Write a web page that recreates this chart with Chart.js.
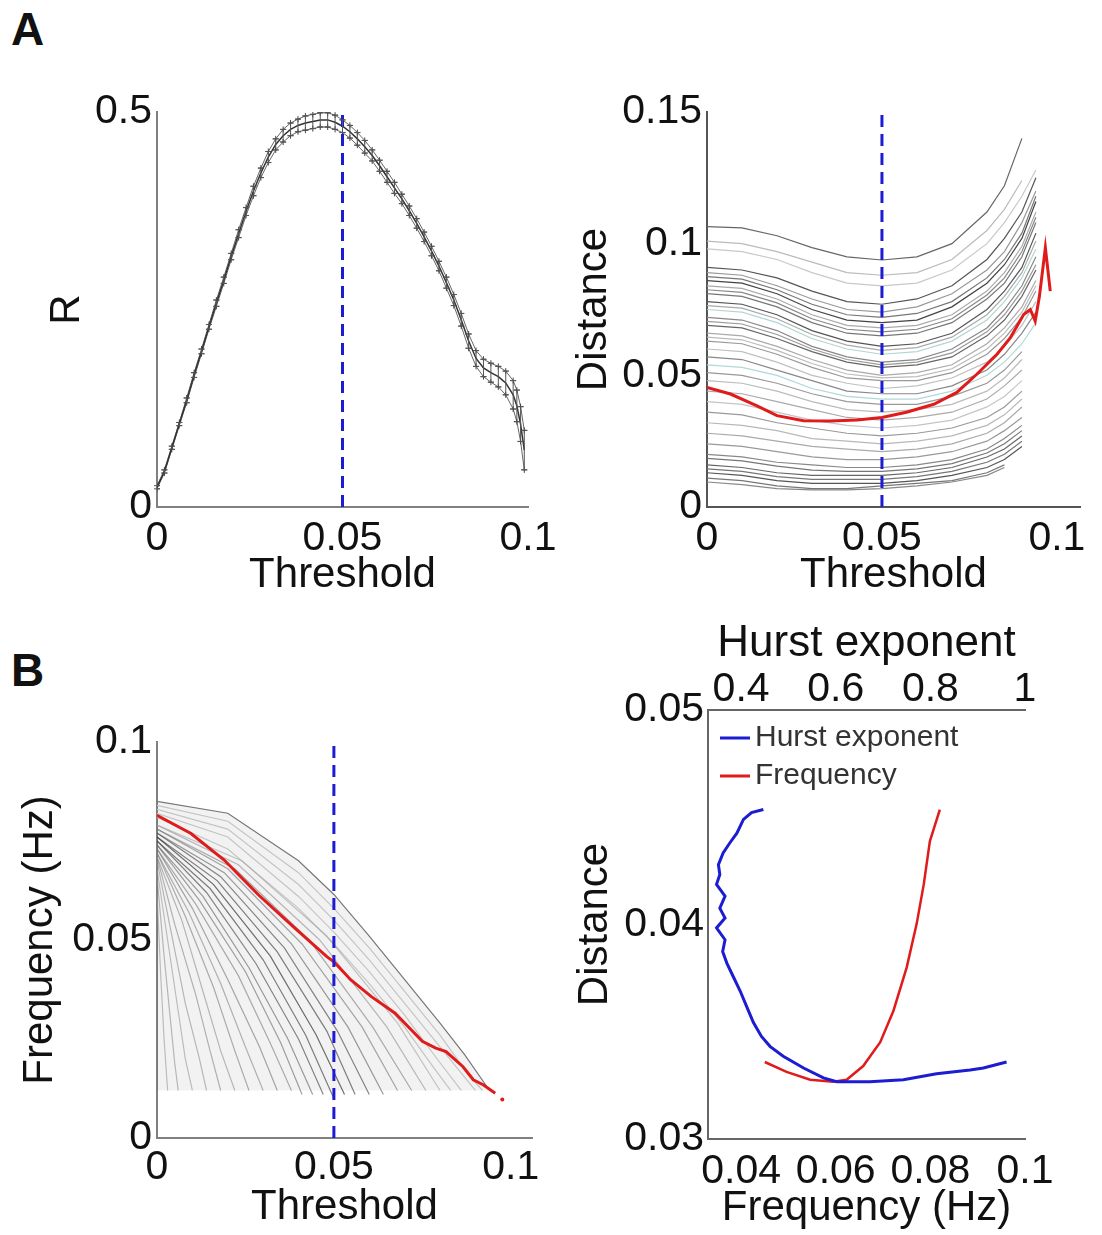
<!DOCTYPE html>
<html>
<head>
<meta charset="utf-8">
<script src="https://cdn.jsdelivr.net/npm/chart.js@4.4.1/dist/chart.umd.min.js"></script>
<style>
    body { margin: 0; background: #fff; }
    #page { position: relative; width: 1102px; height: 1235px; overflow: hidden; background: #fff; }
    .lbl { position: absolute; font: bold 46px "Liberation Sans", Arial, sans-serif; color: #111; line-height: 1; }
    canvas { position: absolute; }
</style>
</head>
<body>
<div id="page">
    <div class="lbl" style="left:11px;top:6px">A</div>
    <div class="lbl" style="left:11px;top:647px">B</div>
    <canvas id="rChart" width="560" height="560" style="left:0;top:60px"></canvas>
    <canvas id="distChart" width="542" height="560" style="left:560px;top:60px"></canvas>
    <canvas id="freqChart" width="560" height="545" style="left:0;top:690px"></canvas>
    <canvas id="hurstChart" width="542" height="625" style="left:560px;top:610px"></canvas>
</div>
<script>
// ---- A left: R vs threshold (mean +/- error)
const rX = [0, 0.002, 0.004, 0.006, 0.008, 0.010, 0.012, 0.014, 0.016, 0.018,
    0.020, 0.022, 0.024, 0.026, 0.028, 0.030, 0.032, 0.034, 0.036, 0.038,
    0.040, 0.042, 0.044, 0.046, 0.048, 0.050, 0.052, 0.054, 0.056, 0.058,
    0.060, 0.062, 0.064, 0.066, 0.068, 0.070, 0.072, 0.074, 0.076, 0.078,
    0.080, 0.082, 0.084, 0.086, 0.088, 0.090, 0.092, 0.094, 0.096, 0.097,
    0.098, 0.099];
const rMean = [0.025, 0.045, 0.075, 0.105, 0.135, 0.167, 0.197, 0.228, 0.258, 0.287,
    0.317, 0.346, 0.374, 0.400, 0.423, 0.443, 0.459, 0.470, 0.478, 0.483,
    0.486, 0.488, 0.490, 0.490, 0.487, 0.482, 0.475, 0.466, 0.456, 0.445,
    0.432, 0.418, 0.404, 0.390, 0.375, 0.359, 0.342, 0.324, 0.305, 0.284,
    0.262, 0.237, 0.210, 0.188, 0.176, 0.170, 0.165, 0.157, 0.142, 0.128,
    0.105, 0.072];
const rErr = [0.002, 0.002, 0.002, 0.002, 0.003, 0.003, 0.003, 0.003, 0.004, 0.004,
    0.004, 0.005, 0.005, 0.006, 0.006, 0.007, 0.007, 0.008, 0.008, 0.008,
    0.009, 0.009, 0.009, 0.009, 0.009, 0.008, 0.008, 0.008, 0.008, 0.007,
    0.007, 0.007, 0.007, 0.006, 0.006, 0.006, 0.006, 0.006, 0.006, 0.007,
    0.007, 0.008, 0.009, 0.010, 0.011, 0.012, 0.013, 0.015, 0.018, 0.020,
    0.022, 0.025];

// ---- A right: distance vs threshold, one curve per subject + mean
const distX = [0, 0.01, 0.02, 0.03, 0.04, 0.05, 0.06, 0.07, 0.08, 0.085, 0.09, 0.094];
const distCurves = [
    [0.1065, 0.106, 0.103, 0.0985, 0.095, 0.0938, 0.095, 0.100, 0.112, 0.122, 0.140, null],
    [0.101, 0.100, 0.097, 0.093, 0.089, 0.088, 0.089, 0.094, 0.105, 0.113, 0.124, null],
    [0.098, 0.097, 0.094, 0.089, 0.085, 0.084, 0.085, 0.090, 0.100, 0.108, 0.118, 0.128],
    [0.091, 0.090, 0.087, 0.082, 0.078, 0.077, 0.079, 0.084, 0.094, 0.102, 0.112, 0.125],
    [0.089, 0.088, 0.084, 0.079, 0.075, 0.074, 0.076, 0.081, 0.090, 0.097, 0.108, 0.120],
    [0.0875, 0.0865, 0.0825, 0.077, 0.073, 0.072, 0.0735, 0.078, 0.087, 0.094, 0.104, 0.118],
    [0.086, 0.085, 0.081, 0.075, 0.071, 0.070, 0.071, 0.076, 0.085, 0.092, 0.102, 0.116],
    [0.084, 0.083, 0.079, 0.073, 0.069, 0.068, 0.069, 0.073, 0.082, 0.089, 0.099, 0.112],
    [0.0825, 0.0815, 0.0775, 0.0715, 0.0675, 0.0665, 0.0675, 0.0715, 0.0805, 0.087, 0.097, 0.110],
    [0.081, 0.080, 0.076, 0.070, 0.066, 0.065, 0.066, 0.070, 0.079, 0.085, 0.095, 0.108],
    [0.078, 0.077, 0.073, 0.067, 0.063, 0.061, 0.062, 0.066, 0.075, 0.082, 0.091, 0.104],
    [0.0765, 0.0755, 0.0715, 0.0655, 0.0615, 0.0595, 0.0605, 0.0645, 0.073, 0.080, 0.089, 0.101],
    [0.075, 0.074, 0.070, 0.064, 0.060, 0.058, 0.059, 0.063, 0.071, 0.078, 0.087, 0.098],
    [0.072, 0.071, 0.067, 0.061, 0.057, 0.055, 0.056, 0.060, 0.068, 0.075, 0.084, 0.095],
    [0.0705, 0.0695, 0.0655, 0.060, 0.056, 0.054, 0.055, 0.0585, 0.0665, 0.073, 0.082, 0.092],
    [0.069, 0.068, 0.064, 0.059, 0.055, 0.053, 0.054, 0.057, 0.065, 0.071, 0.080, 0.090],
    [0.066, 0.065, 0.061, 0.056, 0.052, 0.050, 0.051, 0.054, 0.062, 0.068, 0.076, 0.086],
    [0.0645, 0.0635, 0.0595, 0.0545, 0.0505, 0.049, 0.0495, 0.0525, 0.060, 0.066, 0.074, 0.084],
    [0.063, 0.062, 0.058, 0.053, 0.049, 0.048, 0.048, 0.051, 0.058, 0.064, 0.072, 0.082],
    [0.060, 0.059, 0.055, 0.050, 0.047, 0.045, 0.046, 0.049, 0.055, 0.061, 0.069, 0.078],
    [0.057, 0.056, 0.052, 0.048, 0.044, 0.043, 0.043, 0.046, 0.052, 0.058, 0.066, 0.074],
    [0.054, 0.053, 0.050, 0.045, 0.042, 0.041, 0.041, 0.044, 0.050, 0.055, 0.062, 0.070],
    [0.051, 0.050, 0.047, 0.043, 0.040, 0.039, 0.039, 0.042, 0.047, 0.052, 0.059, null],
    [0.048, 0.047, 0.044, 0.040, 0.037, 0.036, 0.037, 0.039, 0.044, 0.049, 0.056, null],
    [0.044, 0.043, 0.040, 0.037, 0.034, 0.033, 0.034, 0.036, 0.041, 0.046, 0.052, null],
    [0.040, 0.039, 0.036, 0.033, 0.031, 0.030, 0.031, 0.033, 0.038, 0.042, 0.048, null],
    [0.036, 0.035, 0.032, 0.030, 0.028, 0.027, 0.028, 0.030, 0.034, 0.038, 0.044, null],
    [0.032, 0.031, 0.029, 0.026, 0.025, 0.024, 0.025, 0.027, 0.031, 0.035, 0.041, null],
    [0.028, 0.027, 0.025, 0.023, 0.022, 0.021, 0.022, 0.024, 0.028, 0.032, 0.038, null],
    [0.024, 0.023, 0.021, 0.019, 0.018, 0.018, 0.019, 0.021, 0.025, 0.029, 0.034, null],
    [0.020, 0.019, 0.017, 0.016, 0.015, 0.015, 0.016, 0.018, 0.022, 0.026, 0.031, null],
    [0.0185, 0.0175, 0.0155, 0.014, 0.0135, 0.0135, 0.0145, 0.0165, 0.0205, 0.024, 0.029, null],
    [0.016, 0.015, 0.013, 0.012, 0.012, 0.012, 0.013, 0.015, 0.019, 0.022, 0.027, null],
    [0.0145, 0.0135, 0.0115, 0.0105, 0.0105, 0.0105, 0.0115, 0.0135, 0.017, 0.020, 0.025, null],
    [0.013, 0.012, 0.010, 0.009, 0.009, 0.009, 0.010, 0.012, 0.015, 0.018, 0.023, null],
    [0.011, 0.010, 0.008, 0.007, 0.007, 0.008, 0.009, 0.010, 0.013, 0.016, null, null],
    [0.0095, 0.0085, 0.0070, 0.0065, 0.0065, 0.007, 0.008, 0.0095, 0.012, 0.015, null, null]
];
const distMeanX = [0, 0.0067, 0.0143, 0.02, 0.0276, 0.0352, 0.0429, 0.05, 0.057, 0.0648,
    0.0714, 0.0771, 0.0829, 0.0867, 0.0905, 0.0924, 0.0938, 0.095, 0.0962, 0.0967, 0.0981];
const distMeanY = [0.0454, 0.0429, 0.0384, 0.0347, 0.0328, 0.0327, 0.033, 0.034, 0.036, 0.039,
    0.0435, 0.0504, 0.058, 0.0643, 0.0731, 0.075, 0.0706, 0.080, 0.093, 0.0985, 0.082];

// ---- B left: frequency vs threshold
const freqUpper = [
    [[0, 0.085], [0.02, 0.082], [0.04, 0.070], [0.05, 0.0615], [0.06, 0.051], [0.07, 0.040], [0.08, 0.029], [0.087, 0.021], [0.094, 0.012]],
    [[0, 0.084], [0.02, 0.080], [0.04, 0.067], [0.05, 0.058], [0.06, 0.048], [0.07, 0.037], [0.08, 0.026], [0.088, 0.016], [0.092, 0.012]],
    [[0, 0.083], [0.02, 0.078], [0.04, 0.064], [0.05, 0.055], [0.06, 0.045], [0.07, 0.034], [0.08, 0.023], [0.09, 0.012]],
    [[0, 0.082], [0.02, 0.076], [0.04, 0.061], [0.05, 0.052], [0.06, 0.042], [0.07, 0.031], [0.08, 0.019], [0.086, 0.012]],
    [[0, 0.081], [0.02, 0.073], [0.04, 0.058], [0.05, 0.049], [0.06, 0.039], [0.07, 0.028], [0.078, 0.018], [0.083, 0.012]]
];
const freqLower = [
    [[0, 0.079], [0.024, 0.070], [0.048, 0.051], [0.068, 0.029], [0.080, 0.012]],
    [[0, 0.079], [0.023, 0.069], [0.046, 0.050], [0.065, 0.028], [0.076, 0.012]],
    [[0, 0.078], [0.022, 0.068], [0.043, 0.050], [0.061, 0.028], [0.072, 0.012]],
    [[0, 0.078], [0.020, 0.068], [0.041, 0.049], [0.058, 0.028], [0.068, 0.012]],
    [[0, 0.077], [0.019, 0.067], [0.038, 0.049], [0.054, 0.028], [0.064, 0.011]],
    [[0, 0.077], [0.018, 0.066], [0.036, 0.048], [0.051, 0.027], [0.060, 0.011]],
    [[0, 0.076], [0.017, 0.065], [0.034, 0.047], [0.048, 0.027], [0.056, 0.011]],
    [[0, 0.076], [0.016, 0.064], [0.032, 0.046], [0.045, 0.026], [0.053, 0.011]],
    [[0, 0.075], [0.015, 0.063], [0.030, 0.045], [0.042, 0.026], [0.050, 0.010]],
    [[0, 0.075], [0.014, 0.062], [0.028, 0.044], [0.040, 0.025], [0.047, 0.011]],
    [[0, 0.074], [0.013, 0.061], [0.026, 0.043], [0.037, 0.025], [0.044, 0.011]],
    [[0, 0.074], [0.012, 0.060], [0.025, 0.042], [0.035, 0.024], [0.041, 0.011]],
    [[0, 0.073], [0.011, 0.059], [0.023, 0.041], [0.032, 0.024], [0.038, 0.012]],
    [[0, 0.073], [0.010, 0.058], [0.020, 0.040], [0.029, 0.023], [0.034, 0.012]],
    [[0, 0.072], [0.009, 0.057], [0.018, 0.039], [0.025, 0.023], [0.030, 0.012]],
    [[0, 0.072], [0.008, 0.056], [0.016, 0.038], [0.022, 0.022], [0.026, 0.012]],
    [[0, 0.071], [0.007, 0.055], [0.013, 0.037], [0.018, 0.022], [0.022, 0.012]],
    [[0, 0.071], [0.005, 0.054], [0.011, 0.036], [0.015, 0.022], [0.018, 0.012]],
    [[0, 0.070], [0.004, 0.052], [0.008, 0.034], [0.012, 0.020], [0.014, 0.012]],
    [[0, 0.068], [0.003, 0.050], [0.006, 0.032], [0.008, 0.020], [0.010, 0.012]],
    [[0, 0.066], [0.002, 0.046], [0.004, 0.028], [0.005, 0.019], [0.006, 0.012]],
    [[0, 0.062], [0.001, 0.042], [0.002, 0.025], [0.003, 0.012]]
];
const freqMeanX = [0, 0.0096, 0.019, 0.0288, 0.0385, 0.048, 0.05, 0.0548, 0.0606, 0.0673,
    0.075, 0.0788, 0.0817, 0.0865, 0.0894, 0.0923, 0.0956];
const freqMeanY = [0.0815, 0.0769, 0.0702, 0.0613, 0.0534, 0.0458, 0.0445, 0.0399, 0.0357, 0.0315,
    0.0244, 0.0227, 0.0218, 0.018, 0.0147, 0.0134, 0.0113];
const freqDot = [{x: 0.0976, y: 0.0097}];

// ---- B right: distance minimum vs Hurst exponent / frequency
const hurstX = [0.447, 0.422, 0.405, 0.391, 0.376, 0.362, 0.352, 0.355, 0.348, 0.366,
    0.355, 0.366, 0.348, 0.366, 0.361, 0.370, 0.384, 0.398, 0.412, 0.426,
    0.443, 0.461, 0.489, 0.532, 0.574, 0.602, 0.672, 0.743, 0.813, 0.884,
    0.912, 0.961];
const hurstDist = [0.04536, 0.04522, 0.0449, 0.04426, 0.0438, 0.04334, 0.04279, 0.04233, 0.04187, 0.04132,
    0.04076, 0.0403, 0.03984, 0.03929, 0.03874, 0.03819, 0.03754, 0.0369, 0.03616, 0.03543,
    0.03478, 0.03432, 0.03386, 0.03331, 0.03285, 0.03267, 0.03267, 0.03276, 0.03304, 0.03322,
    0.03331, 0.03359];
const bandFreq = [0.045, 0.0496, 0.0546, 0.0595, 0.0623, 0.0658, 0.0694, 0.0722, 0.075, 0.0771,
    0.0786, 0.0799, 0.082];
const bandDist = [0.03359, 0.03313, 0.03276, 0.03267, 0.03276, 0.0334, 0.03451, 0.03598, 0.038, 0.04003,
    0.04187, 0.04389, 0.04536];

// ticks
const thresholdTicks = [0, 0.05, 0.1];
const rTicks = [0, 0.5];
const distTicks = [0, 0.05, 0.1, 0.15];
const freqTicks = [0, 0.05, 0.1];
const hurstTicks = [0.4, 0.6, 0.8, 1];
const bandTicks = [0.04, 0.06, 0.08, 0.1];
const minDistTicks = [0.03, 0.04, 0.05];

Chart.defaults.font.family = '"Liberation Sans", Arial, sans-serif';
Chart.defaults.color = '#111';
Chart.defaults.animation = false;
Chart.defaults.events = [];
Chart.defaults.plugins.legend.display = false;
Chart.defaults.plugins.tooltip.enabled = false;

const BLUE = '#1c1cd2';
const RED = '#e01b1b';

function pts(xs, ys) {
    return xs.map((x, i) => ({x: x, y: ys[i]}));
}

function axis(o) {
    return {
        type: 'linear',
        position: o.position,
        min: o.min,
        max: o.max,
        afterBuildTicks: (s) => { s.ticks = o.ticks.map((v) => ({value: v})); },
        afterFit: (s) => {
            if (o.w) s.width = o.w;
            if (o.h) s.height = o.h;
        },
        grid: {display: false},
        border: {display: true, color: o.color || '#808080', width: 2},
        ticks: {
            font: {size: o.tickSize || 41},
            padding: o.tickPad,
            color: '#111',
            maxRotation: 0,
            autoSkip: false,
            callback: (v) => String(v),
        },
        title: {
            display: !!o.title,
            text: o.title,
            font: {size: o.titleSize || 42, lineHeight: 1},
            color: '#111',
            padding: o.titlePad || 0,
        },
    };
}

function dashed(x, top) {
    return {
        data: [{x: x, y: 0}, {x: x, y: top}],
        borderColor: BLUE,
        borderWidth: 3,
        borderDash: [12, 7],
        pointRadius: 0,
        showLine: true,
    };
}

// vertical error bars drawn through the chart scales
const errorBars = {
    id: 'errorBars',
    afterDatasetsDraw(chart, args, opts) {
        const {ctx, scales} = chart;
        ctx.save();
        ctx.strokeStyle = opts.color;
        ctx.lineWidth = 1;
        opts.xs.forEach((xv, i) => {
            const px = scales.x.getPixelForValue(xv);
            const top = scales.y.getPixelForValue(opts.mean[i] + opts.err[i]);
            const bot = scales.y.getPixelForValue(opts.mean[i] - opts.err[i]);
            ctx.beginPath();
            ctx.moveTo(px, top);
            ctx.lineTo(px, bot);
            ctx.moveTo(px - 3, top);
            ctx.lineTo(px + 3, top);
            ctx.moveTo(px - 3, bot);
            ctx.lineTo(px + 3, bot);
            ctx.stroke();
        });
        ctx.restore();
    },
};

// legend drawn inside the plot box
const insideLegend = {
    id: 'insideLegend',
    afterDraw(chart, args, opts) {
        const {ctx, chartArea} = chart;
        ctx.save();
        ctx.font = opts.font;
        ctx.textBaseline = 'middle';
        chart.data.datasets.forEach((d, i) => {
            const x = chartArea.left + opts.left;
            const y = chartArea.top + opts.top + i * opts.step;
            ctx.strokeStyle = d.borderColor;
            ctx.lineWidth = 3;
            ctx.beginPath();
            ctx.moveTo(x, y);
            ctx.lineTo(x + opts.len, y);
            ctx.stroke();
            ctx.fillStyle = '#333';
            ctx.fillText(d.label, x + opts.len + opts.gap, y);
        });
        ctx.restore();
    },
};

// ---- A left
new Chart(document.getElementById('rChart'), {
    type: 'scatter',
    data: {
        datasets: [
            dashed(0.05, 0.5),
            {
                data: pts(rX, rMean),
                borderColor: '#333',
                borderWidth: 1.5,
                pointRadius: 0,
                showLine: true,
            },
            {
                data: pts(rX, rMean.map((m, i) => m + rErr[i])),
                borderColor: '#666',
                borderWidth: 1,
                pointStyle: 'cross',
                pointRadius: 3,
                pointBorderColor: '#444',
                showLine: true,
            },
            {
                data: pts(rX, rMean.map((m, i) => m - rErr[i])),
                borderColor: '#666',
                borderWidth: 1,
                pointStyle: 'cross',
                pointRadius: 3,
                pointBorderColor: '#444',
                showLine: true,
            },
        ],
    },
    options: {
        responsive: false,
        devicePixelRatio: 1,
        layout: {padding: {left: 0, top: 52, right: 32, bottom: 0}},
        scales: {
            x: axis({position: 'bottom', min: 0, max: 0.1, ticks: thresholdTicks, h: 113, tickPad: -1,
                title: 'Threshold', titlePad: {top: 0, bottom: 24}}),
            y: axis({position: 'left', min: 0, max: 0.5, ticks: rTicks, w: 157, tickPad: -3,
                title: 'R', titlePad: {top: 46, bottom: 0}}),
        },
        plugins: {errorBars: {xs: rX, mean: rMean, err: rErr, color: '#555'}},
    },
    plugins: [errorBars],
});

// ---- A right
const distGrays = ['#666', '#bbb', '#c8c8c8', '#555', '#999', '#777', '#444', '#aaa', '#888', '#777',
    '#555', '#aaa', '#b5d5d5', '#888', '#999', '#666', '#aaa', '#bbb', '#999', '#c0c0c0',
    '#888', '#b0d8d8', '#999', '#bbb', '#aaa', '#c5c5c5', '#999', '#b8b8b8', '#aaa', '#999',
    '#888', '#777', '#666', '#777', '#555', '#777', '#888'];
const distSets = distCurves.map((c, i) => ({
    data: pts(distX, c),
    borderColor: distGrays[i % distGrays.length],
    borderWidth: 1.2,
    pointRadius: 0,
    showLine: true,
    spanGaps: false,
}));
new Chart(document.getElementById('distChart'), {
    type: 'scatter',
    data: {
        datasets: [
            dashed(0.05, 0.15),
            {
                data: pts(distMeanX, distMeanY),
                borderColor: RED,
                borderWidth: 3,
                pointRadius: 0,
                showLine: true,
            },
        ].concat(distSets),
    },
    options: {
        responsive: false,
        devicePixelRatio: 1,
        layout: {padding: {left: 0, top: 52, right: 22, bottom: 0}},
        scales: {
            x: axis({position: 'bottom', min: 0, max: 0.1066, ticks: thresholdTicks, h: 113, tickPad: -1,
                color: '#555', title: 'Threshold', titlePad: {top: 0, bottom: 24}}),
            y: axis({position: 'left', min: 0, max: 0.15, ticks: distTicks, w: 147, tickPad: -3,
                color: '#555', title: 'Distance', titlePad: {top: 13, bottom: 0}}),
        },
    },
});

// ---- B left
const upperSets = freqUpper.map((c, i) => ({
    data: c.map((p) => ({x: p[0], y: p[1]})),
    borderColor: i === 0 ? '#777' : '#cfcfcf',
    borderWidth: 1.2,
    backgroundColor: 'rgba(0,0,0,0.05)',
    fill: i === 0 ? {value: 0.012} : false,
    pointRadius: 0,
    showLine: true,
}));
// strands ending near the dashed line are the darkest in the picture
const lowerGrays = ['rgba(160,160,160,0.6)', 'rgba(140,140,140,0.6)', 'rgba(120,120,120,0.6)', 'rgba(110,110,110,0.6)',
    'rgba(90,90,90,0.6)', 'rgba(70,70,70,0.65)', 'rgba(60,60,60,0.65)', 'rgba(50,50,50,0.7)',
    'rgba(60,60,60,0.65)', 'rgba(70,70,70,0.65)', 'rgba(90,90,90,0.6)', 'rgba(100,100,100,0.6)',
    'rgba(120,120,120,0.6)', 'rgba(110,110,110,0.6)', 'rgba(130,130,130,0.6)', 'rgba(120,120,120,0.6)',
    'rgba(140,140,140,0.6)', 'rgba(130,130,130,0.6)', 'rgba(140,140,140,0.6)', 'rgba(150,150,150,0.6)',
    'rgba(140,140,140,0.6)', 'rgba(150,150,150,0.6)'];
const lowerSets = freqLower.map((c, i) => ({
    data: c.map((p) => ({x: p[0], y: p[1]})),
    borderColor: lowerGrays[i % lowerGrays.length],
    borderWidth: 1.2,
    pointRadius: 0,
    showLine: true,
}));
new Chart(document.getElementById('freqChart'), {
    type: 'scatter',
    data: {
        datasets: [
            dashed(0.05, 0.1),
            {
                data: pts(freqMeanX, freqMeanY),
                borderColor: RED,
                borderWidth: 3,
                pointRadius: 0,
                showLine: true,
            },
            {
                data: freqDot,
                pointRadius: 2,
                pointBackgroundColor: RED,
                pointBorderWidth: 0,
            },
        ].concat(lowerSets, upperSets),
    },
    options: {
        responsive: false,
        devicePixelRatio: 1,
        layout: {padding: {left: 0, top: 52, right: 28, bottom: 0}},
        scales: {
            x: axis({position: 'bottom', min: 0, max: 0.106, ticks: freqTicks, h: 97, tickPad: -3,
                title: 'Threshold', titlePad: {top: 0, bottom: 7}}),
            y: axis({position: 'left', min: 0, max: 0.1, ticks: freqTicks, w: 157, tickPad: -3,
                title: 'Frequency (Hz)', titlePad: {top: 19, bottom: 0}}),
        },
    },
});

// ---- B right
new Chart(document.getElementById('hurstChart'), {
    type: 'scatter',
    data: {
        datasets: [
            {
                label: 'Hurst exponent',
                data: pts(hurstX, hurstDist),
                xAxisID: 'xTop',
                borderColor: BLUE,
                borderWidth: 3,
                pointRadius: 0,
                showLine: true,
            },
            {
                label: 'Frequency',
                data: pts(bandFreq, bandDist),
                xAxisID: 'x',
                borderColor: RED,
                borderWidth: 2.5,
                pointRadius: 0,
                showLine: true,
            },
        ],
    },
    options: {
        responsive: false,
        devicePixelRatio: 1,
        layout: {padding: {left: 0, top: 0, right: 77, bottom: 0}},
        scales: {
            x: axis({position: 'bottom', min: 0.033, max: 0.1, ticks: bandTicks, h: 96, tickPad: 0,
                color: '#666', title: 'Frequency (Hz)', titlePad: {top: 0, bottom: 6}}),
            xTop: axis({position: 'top', min: 0.33, max: 1.0, ticks: hurstTicks, h: 100, tickPad: -12,
                color: '#666', title: 'Hurst exponent', titleSize: 44, titlePad: {top: 12, bottom: 0}}),
            y: axis({position: 'left', min: 0.03, max: 0.05, ticks: minDistTicks, w: 148, tickPad: -4,
                color: '#666', title: 'Distance', titlePad: {top: 14, bottom: 0}}),
        },
        plugins: {
            insideLegend: {
                font: '30px "Liberation Sans", Arial, sans-serif',
                left: 12,
                top: 28,
                step: 38,
                len: 30,
                gap: 5,
            },
        },
    },
    plugins: [insideLegend],
});
</script>
</body>
</html>
